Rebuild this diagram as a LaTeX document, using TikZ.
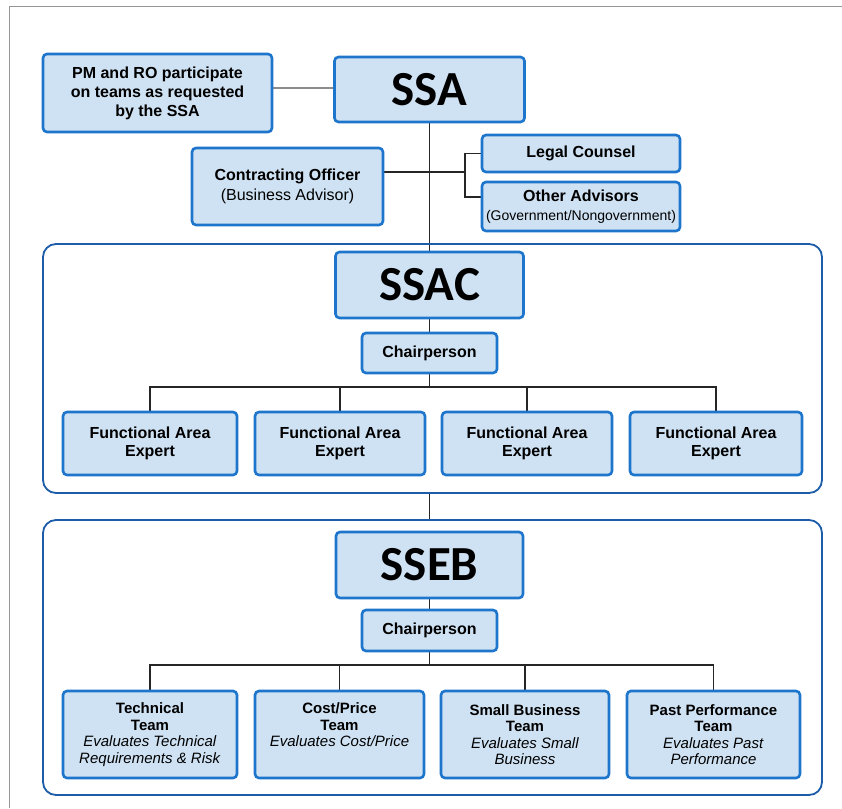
\documentclass[tikz,border=0pt]{standalone}
\usepackage{fontspec}
\setmainfont{Liberation Sans}
\newfontfamily\carl{Carlito}
\usetikzlibrary{backgrounds}
\definecolor{boxfill}{RGB}{207,226,243}
\definecolor{boxdraw}{RGB}{30,117,204}
\definecolor{contdraw}{RGB}{28,92,168}
\definecolor{framegray}{RGB}{150,150,150}
\begin{document}
\begin{tikzpicture}[x=1pt,y=-1pt,
  box/.style={draw=boxdraw, fill=boxfill, line width=2.6pt, rounded corners=4pt,
    inner sep=0pt, align=center, font=\bfseries\fontsize{16}{19}\selectfont},
  bigbox/.style={box, font=\carl\bfseries\fontsize{49}{49}\selectfont},
  teambox/.style={box, font=\fontsize{15}{16.5}\selectfont},
  cont/.style={draw=contdraw, line width=1.8pt, rounded corners=13pt, inner sep=0pt},
  conn/.style={draw=black!85, line width=1.2pt},
  soft/.style={draw=black!45, line width=1.2pt},
  frame/.style={draw=framegray, line width=1pt}]
\useasboundingbox (0,0) rectangle (842,808);

% containers
\node[cont, minimum width=779pt, minimum height=249pt] (ssacC) at (432.5,368.5) {};
\node[cont, minimum width=779pt, minimum height=275pt] (ssebC) at (432.5,657.5) {};

% top level
\node[box, minimum width=229pt, minimum height=78pt] (pm) at (157.5,93)
  {PM and RO participate\\on teams as requested\\by the SSA};
\node[bigbox, minimum width=190pt, minimum height=65pt] (ssa) at (429.5,89.5) {SSA};
\node[box, minimum width=191pt, minimum height=77pt, font=\fontsize{16}{20}\selectfont] (co) at (287.5,186.5)
  {\textbf{Contracting Officer}\\(Business Advisor)};
\node[box, minimum width=198pt, minimum height=37pt] (legal) at (581,153.5) {Legal Counsel};
\node[box, minimum width=198pt, minimum height=49pt, font=\fontsize{16}{19}\selectfont] (other) at (581,206.5)
  {\textbf{Other Advisors}\\{\fontsize{14}{15}\selectfont(Government/Nongovernment)}};

% SSAC
\node[bigbox, minimum width=188pt, minimum height=66pt] (ssac) at (429.5,285) {SSAC};
\node[box, minimum width=135pt, minimum height=40pt] (chairA) at (429.5,353) {Chairperson};
\node[box, minimum width=174pt, minimum height=63pt, font=\bfseries\fontsize{16}{18}\selectfont] (expA) at (150,443.5) {Functional Area\\Expert};
\node[box, minimum width=170pt, minimum height=63pt, font=\bfseries\fontsize{16}{18}\selectfont] (expB) at (340,443.5) {Functional Area\\Expert};
\node[box, minimum width=170pt, minimum height=63pt, font=\bfseries\fontsize{16}{18}\selectfont] (expC) at (527,443.5) {Functional Area\\Expert};
\node[box, minimum width=172pt, minimum height=63pt, font=\bfseries\fontsize{16}{18}\selectfont] (expD) at (716,443.5) {Functional Area\\Expert};

% SSEB
\node[bigbox, minimum width=187pt, minimum height=66pt] (sseb) at (429.5,565) {SSEB};
\node[box, minimum width=135pt, minimum height=41pt] (chairB) at (429.5,630.5) {Chairperson};
\node[teambox, minimum width=174pt, minimum height=87pt] (teamA) at (150,734.5)
  {\textbf{Technical}\\\textbf{Team}\\\textit{Evaluates Technical}\\\textit{Requirements \& Risk}};
\node[teambox, minimum width=169pt, minimum height=87pt] (teamB) at (339.5,734.5)
  {\textbf{Cost/Price}\\\textbf{Team}\\\textit{Evaluates Cost/Price}\\\textit{\phantom{Ag}}};
\node[teambox, minimum width=168pt, minimum height=87pt] (teamC) at (525,734.5)
  {\textbf{Small Business}\\\textbf{Team}\\\textit{Evaluates Small}\\\textit{Business}};
\node[teambox, minimum width=173pt, minimum height=87pt] (teamD) at (713.5,734.5)
  {\textbf{Past Performance}\\\textbf{Team}\\\textit{Evaluates Past}\\\textit{Performance}};

\coordinate (br) at (465,172);
\coordinate (bb) at (465,197);
\coordinate (busA) at (0,387);
\coordinate (busB) at (0,665);
\coordinate (fTL) at (9,7);
\coordinate (fTR) at (842,7);
\coordinate (fBL) at (9,808);

\begin{pgfonlayer}{background}
\fill[white] (0,0) rectangle (842,808);
\draw[frame] (fBL) -- (fTL) -- (fTR);
% SSA links
\draw[soft] (ssa.west |- pm.east) ++(0,-5) coordinate (pmr) -- (pmr -| pm.east);
\draw[conn] (ssa.south) -- (ssac.north);
\draw[conn] (br -| co.east) -- (br);
\draw[conn] (legal.west) -| (bb) -- (bb -| other.west);
% SSAC
\draw[conn] (ssac.south) -- (chairA.north);
\draw[conn] (chairA.south) -- (chairA.south |- busA);
\draw[conn] (expA.north) |- (busA -| expD.north) -- (expD.north);
\draw[conn] (expB.north) -- (expB.north |- busA);
\draw[conn] (expC.north) -- (expC.north |- busA);
% between containers
\draw[conn] (ssacC.south -| ssa.south) -- (ssebC.north -| ssa.south);
% SSEB
\draw[conn] (sseb.south) -- (chairB.north);
\draw[conn] (chairB.south) -- (chairB.south |- busB);
\draw[conn] (teamA.north) |- (busB -| teamD.north) -- (teamD.north);
\draw[conn] (teamB.north) -- (teamB.north |- busB);
\draw[conn] (teamC.north) -- (teamC.north |- busB);
\end{pgfonlayer}
\end{tikzpicture}
\end{document}
